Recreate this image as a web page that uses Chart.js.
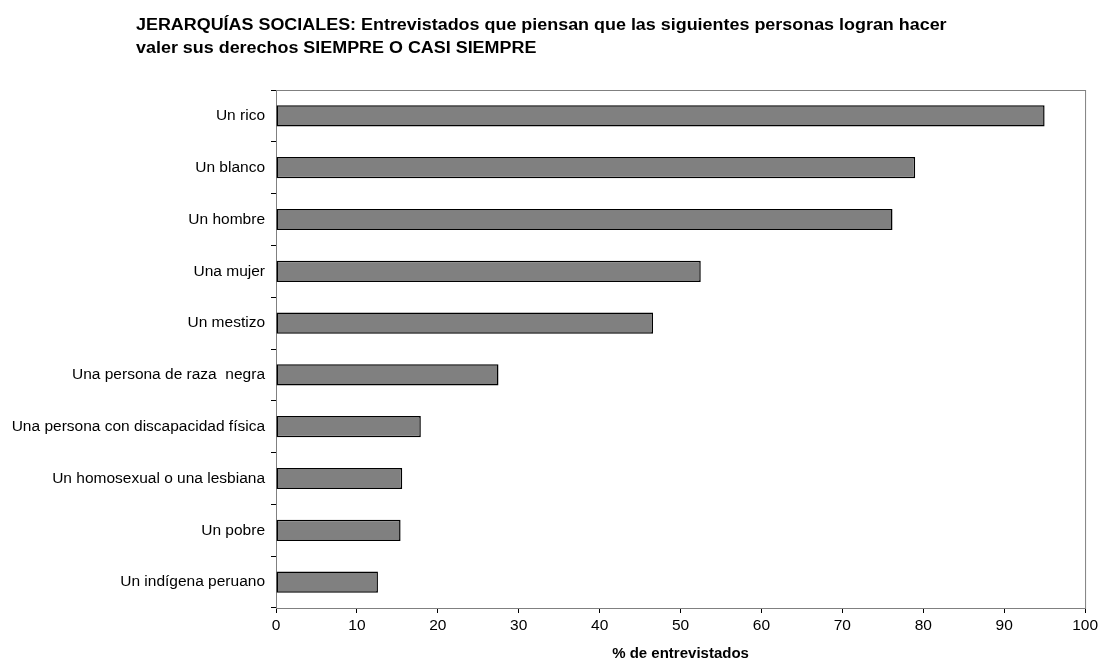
<!DOCTYPE html>
<html>
<head>
<meta charset="utf-8">
<script src="https://cdn.jsdelivr.net/npm/chart.js@4"></script>
<style>
  body { margin: 0; background: #fff; }
  #wrap { position: relative; width: 1101px; height: 664px; }
  #titulo {
    position: absolute; left: 136px; top: 13px;
    font: bold 16px "Liberation Sans", Arial, sans-serif;
    line-height: 23px; color: #000; white-space: nowrap;
    transform: scaleX(1.12); transform-origin: left top;
  }
</style>
</head>
<body>
<div id="wrap">
  <div id="titulo">JERARQUÍAS SOCIALES: Entrevistados que piensan que las siguientes personas logran hacer<br>valer sus derechos SIEMPRE O CASI SIEMPRE</div>
  <canvas id="grafico" width="1101" height="664"></canvas>
</div>
<script>
// categorías (de arriba hacia abajo)
const categorias = [
  'Un rico',
  'Un blanco',
  'Un hombre',
  'Una mujer',
  'Un mestizo',
  'Una persona de raza  negra',
  'Una persona con discapacidad física',
  'Un homosexual o una lesbiana',
  'Un pobre',
  'Un indígena peruano'
];
// % de entrevistados
const valores = [95.0, 79.0, 76.2, 52.5, 46.6, 27.5, 17.9, 15.6, 15.4, 12.6];
const ejeX = { min: 0, max: 100, paso: 10 };

// marco gris del área de trazado
const marcoPlugin = {
  id: 'marco',
  beforeDatasetsDraw(chart) {
    const { ctx, chartArea: a } = chart;
    ctx.save();
    ctx.strokeStyle = '#808080';
    ctx.lineWidth = 1;
    ctx.strokeRect(a.left + 0.5, a.top + 0.5, a.right - a.left, a.bottom - a.top);
    ctx.restore();
  }
};

const fuente = { family: '"Liberation Sans", Arial, sans-serif', size: 15.5 };

new Chart(document.getElementById('grafico'), {
  type: 'bar',
  data: {
    labels: categorias,
    datasets: [{
      data: valores,
      backgroundColor: '#808080',
      borderColor: '#000',
      borderWidth: 1.5,
      borderSkipped: false,
      barPercentage: 0.41,
      categoryPercentage: 1
    }]
  },
  options: {
    indexAxis: 'y',
    responsive: false,
    animation: false,
    layout: { padding: { top: 90, right: 14, left: 0, bottom: 0 } },
    plugins: {
      legend: { display: false },
      tooltip: { enabled: false }
    },
    scales: {
      x: {
        min: ejeX.min,
        max: ejeX.max,
        ticks: { stepSize: ejeX.paso, color: '#000', font: fuente, padding: 3 },
        grid: { drawOnChartArea: false, tickLength: 5, color: '#000' },
        border: { color: '#000', width: 1 },
        title: {
          display: true,
          text: '% de entrevistados',
          color: '#000',
          font: { family: fuente.family, size: 15, weight: 'bold' },
          padding: { top: 0, bottom: 1 }
        },
        afterFit(scale) { scale.height = 56; }
      },
      y: {
        ticks: { color: '#000', font: fuente, padding: 6 },
        grid: { drawOnChartArea: false, tickLength: 5, color: '#000' },
        border: { color: '#000', width: 1 },
        afterFit(scale) { scale.width = 276; }
      }
    }
  },
  plugins: [marcoPlugin]
});
</script>
</body>
</html>
